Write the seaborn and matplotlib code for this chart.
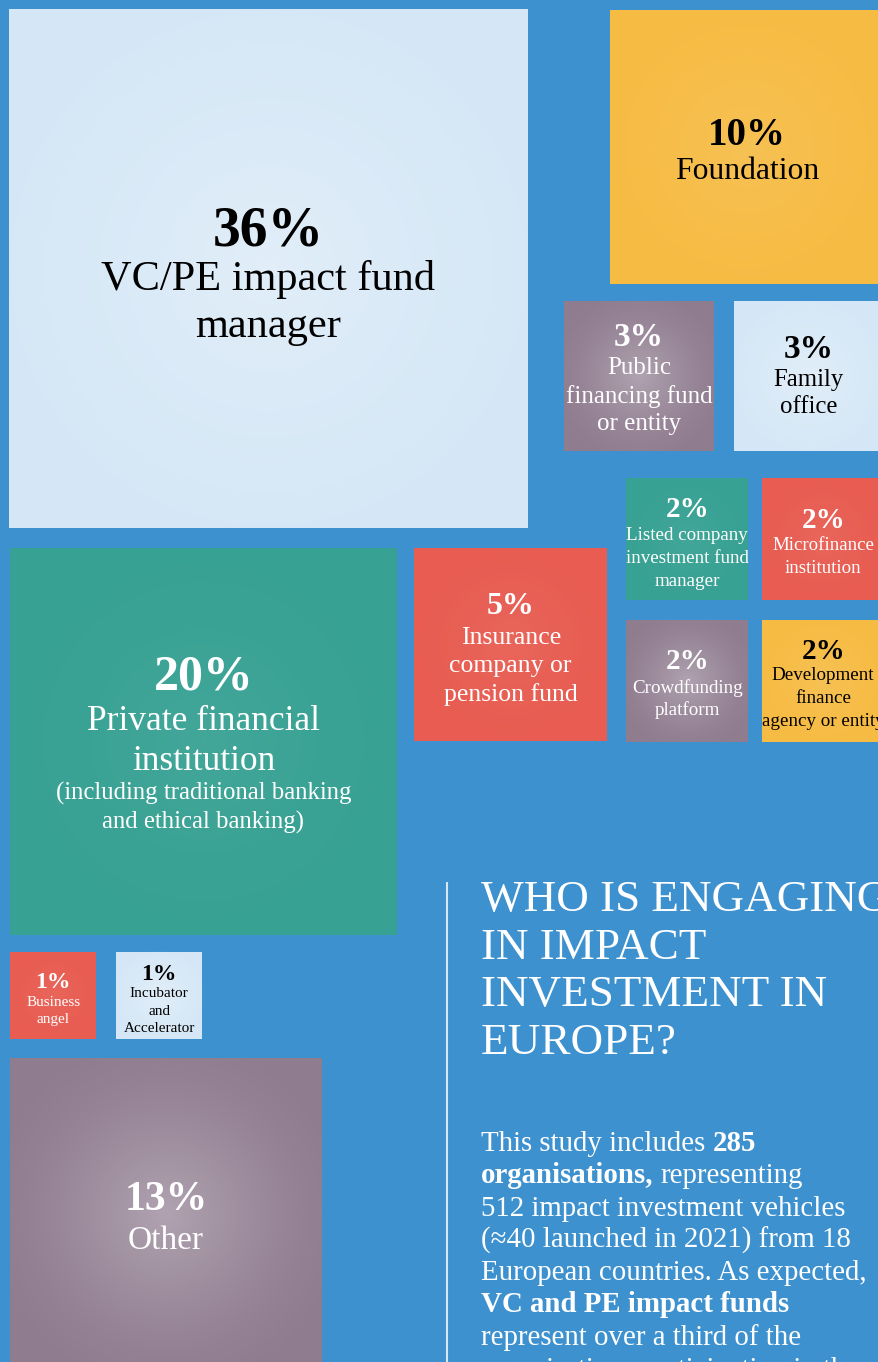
import numpy as np
import pandas as pd
import matplotlib
matplotlib.use("Agg")
import matplotlib.pyplot as plt
import seaborn as sns

# ---------------- data ----------------
pcts = [36, 10, 3, 3, 2, 2, 5, 2, 2, 20, 1, 1, 13]
names = [
    "VC/PE impact fund\nmanager",
    "Foundation",
    "Public\nfinancing fund\nor entity",
    "Family\noffice",
    "Listed company\ninvestment fund\nmanager",
    "Microfinance\ninstitution",
    "Insurance\ncompany or\npension fund",
    "Crowdfunding\nplatform",
    "Development\nfinance\nagency or entity",
    "Private financial\ninstitution",
    "Business\nangel",
    "Incubator\nand\nAccelerator",
    "Other",
]
notes = ["", "", "", "", "", "", "", "", "",
         "(including traditional banking\nand ethical banking)", "", "", ""]
kinds = ["light", "yellow", "mauve", "light", "teal", "red", "red",
         "mauve", "yellow", "teal", "red", "light", "mauve"]

title_lines = ["WHO IS ENGAGING", "IN IMPACT", "INVESTMENT IN", "EUROPE?"]
# paragraph: list of lines, each a list of (text, bold) segments
para_lines = [
    [("This study includes", False), ("285", True)],
    [("organisations,", True), ("representing", False)],
    [("512 impact investment vehicles", False)],
    [("(\u224840 launched in 2021) from 18", False)],
    [("European countries. As expected,", False)],
    [("VC and PE impact funds", True)],
    [("represent over a third of the", False)],
    [("organisations participating in the survey", False)],
]

# ---------------- style / layout ----------------
W, H = 879, 1362
BG = "#3d91cf"
palette = {"light": "#d5e7f6", "yellow": "#f6bb42", "mauve": "#8f7c8f",
           "teal": "#37a193", "red": "#e85c51"}
text_col = {"light": "black", "yellow": "black", "mauve": "white",
            "teal": "white", "red": "white"}
glow = {"light": 0.30, "yellow": 0.10, "mauve": 0.30, "teal": 0.06, "red": 0.06}
PX_PER_SQRT = 86.5          # side length in px per sqrt(percent)

# left, top of each square (px) and text layout
lefts = [9, 610, 564, 734, 626, 762, 414, 626, 762, 10, 10, 116, 10]
tops = [9, 10, 301, 301, 478, 478, 548, 620, 620, 548, 952, 952, 1058]
pct_dy = [-43.5, -16, -42, -30, -33, -21.5, -41.5, -22.5, -33, -69, -15, -23.5, -18]
pct_fs = [40, 28, 24, 24, 21, 21, 23, 21, 21, 36, 17, 17, 30]
name_dy = [6.5, 21, -10, 2, -5.5, 4.5, -9.5, 4.5, -7.5, -23.5, 6, -3, 23]
name_fs = [30.5, 22.8, 18, 17.8, 13.7, 13.6, 18.5, 13.7, 13.7, 25.5, 11, 11, 24]
line_h = [47, 0, 28, 27, 22.7, 23, 28.5, 22.7, 23, 40, 17, 17.5, 0]
note_dy, note_fs, note_lh = 49.5, 17.8, 29

sns.set_theme(style="white")
SERIF = ["Liberation Serif", "DejaVu Serif"]
plt.rcParams["font.family"] = SERIF

fig = plt.figure(figsize=(W / 100, H / 100), dpi=100, facecolor=BG)
ax = fig.add_axes([0, 0, 1, 1])
ax.set_facecolor(BG)

sides = [np.sqrt(p) * PX_PER_SQRT for p in pcts]
df = pd.DataFrame({
    "pct": pcts, "kind": kinds,
    "cx": [l + s / 2 for l, s in zip(lefts, sides)],
    "cy": [t + s / 2 for t, s in zip(tops, sides)],
})

K = (PX_PER_SQRT * 72 / 100) ** 2   # marker area (pt^2) per percent
sns.scatterplot(data=df, x="cx", y="cy", size="pct", sizes=(K * 1, K * 36),
                size_norm=(1, 36), hue="kind", palette=palette, marker="s",
                linewidth=0, edgecolor="none", legend=False, ax=ax, zorder=2)

# soft radial highlight on each square
g = np.linspace(-1, 1, 200)
xx, yy = np.meshgrid(g, g)
rr = np.clip(np.sqrt(xx ** 2 + yy ** 2) / 1.25, 0, 1)
for cx, cy, s, k in zip(df["cx"], df["cy"], sides, kinds):
    a = glow[k]
    img = np.zeros((200, 200, 4))
    img[..., :3] = 1.0
    img[..., 3] = a * (1 - rr) ** 1.5
    ax.imshow(img, extent=(cx - s / 2, cx + s / 2, cy + s / 2, cy - s / 2),
              aspect="auto", zorder=3, interpolation="bilinear")

# labels
for i, (cx, cy) in enumerate(zip(df["cx"], df["cy"])):
    c = text_col[kinds[i]]
    ax.text(cx, cy + pct_dy[i], f"{pcts[i]}%", ha="center", va="center_baseline",
            fontsize=pct_fs[i], fontweight="bold", color=c, zorder=5)
    for j, ln in enumerate(names[i].split("\n")):
        ax.text(cx, cy + name_dy[i] + j * line_h[i], ln, ha="center",
                va="center_baseline", fontsize=name_fs[i], color=c, zorder=5)
    if notes[i]:
        for j, ln in enumerate(notes[i].split("\n")):
            ax.text(cx, cy + note_dy + j * note_lh, ln, ha="center",
                    va="center_baseline", fontsize=note_fs, color=c, zorder=5)

# divider line
ax.plot([447, 447], [882, H + 5], color="#d6e6f3", lw=1.5, zorder=4,
        solid_capstyle="butt")

# title
TX = 481
for j, ln in enumerate(title_lines):
    ax.text(TX, 911 + j * 47.7, ln, ha="left", va="baseline", fontsize=32.5,
            color="white", zorder=5)

# paragraph
PFS = 20.8
for j, segs in enumerate(para_lines):
    y = 1151 + j * 32.3
    prev = None
    for txt, bold in segs:
        w = "bold" if bold else "normal"
        if prev is None:
            prev = ax.text(TX, y, txt, ha="left", va="baseline", fontsize=PFS,
                           fontweight=w, color="white", zorder=5)
        else:
            prev = ax.annotate(txt, xy=(1, 0), xycoords=prev,
                               xytext=(0.25 * PFS, 0), textcoords="offset points",
                               ha="left", va="bottom", fontsize=PFS,
                               fontweight=w, color="white", zorder=5,
                               annotation_clip=False)

ax.set_xlim(0, W)
ax.set_ylim(H, 0)
ax.axis("off")
fig.savefig("out.png", dpi=100, facecolor=BG)
